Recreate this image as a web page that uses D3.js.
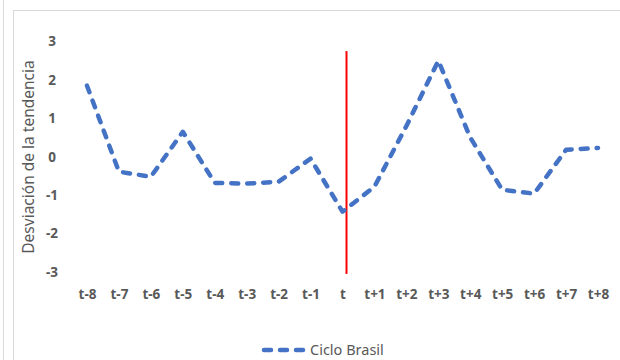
<!DOCTYPE html>
<html><head><meta charset="utf-8">
<script src="https://cdn.jsdelivr.net/npm/d3@7"></script>
<style>html,body{margin:0;padding:0;background:#fff;overflow:hidden}</style>
</head><body>
<svg id="c" width="620" height="360"></svg>
<script>
const categories = ["t-8","t-7","t-6","t-5","t-4","t-3","t-2","t-1","t","t+1","t+2","t+3","t+4","t+5","t+6","t+7","t+8"];
const cicloBrasil = [1.85,-0.39,-0.52,0.65,-0.68,-0.70,-0.65,-0.05,-1.43,-0.78,0.8,2.5,0.5,-0.86,-0.96,0.18,0.23];
const yTicks = [3,2,1,0,-1,-2,-3];
const seriesName = "Ciclo Brasil";
const yTitle = "Desviación de la tendencia";
const markerCategory = "t";
const markerRange = [-3.05, 2.75];

const svg = d3.select("#c");
const font = "'Noto Sans', 'Open Sans', sans-serif";

// frames
svg.append("line").attr("x1",3.5).attr("x2",3.5).attr("y1",0).attr("y2",360).attr("stroke","#d9d9d9");
svg.append("rect").attr("x",13.5).attr("y",10.5).attr("width",700).attr("height",500)
  .attr("fill","none").attr("stroke","#d9d9d9");

const x = d3.scalePoint().domain(categories).range([87,598]);
const y = d3.scaleLinear().domain([-3,3]).range([272,41.5]);

// y axis labels
const yAxis = svg.append("g").attr("transform","translate(52,0)")
  .call(d3.axisLeft(y).tickValues(yTicks).tickSize(0).tickPadding(0)
    .tickFormat(d => String(d)));
yAxis.select(".domain").remove();
yAxis.selectAll("text").attr("font-family",font).attr("font-size",13.5).attr("font-weight","bold")
  .attr("fill","#595959").attr("text-anchor","middle").attr("x",0);

// x axis labels
const xAxis = svg.append("g").attr("transform","translate(0,294)")
  .call(d3.axisBottom(x).tickSize(0).tickPadding(0));
xAxis.select(".domain").remove();
xAxis.selectAll("text").attr("font-family",font).attr("font-size",13.5).attr("font-weight","bold")
  .attr("fill","#595959").attr("dy","0.35em").attr("y",0);

// y title
svg.append("text").attr("transform","translate(29,157) rotate(-90)")
  .attr("text-anchor","middle").attr("dy","0.35em").attr("font-family",font).attr("font-size",15.5)
  .attr("fill","#595959").text(yTitle);

// red marker line
svg.append("line").attr("x1",x(markerCategory)+4).attr("x2",x(markerCategory)+4)
  .attr("y1",y(markerRange[1])).attr("y2",y(markerRange[0]))
  .attr("stroke","#ff0000").attr("stroke-width",2);

// series line
const line = d3.line().x((d,i)=>x(categories[i])).y(d=>y(d));
svg.append("path").datum(cicloBrasil).attr("d",line)
  .attr("fill","none").attr("stroke","#4472c4").attr("stroke-width",4.5)
  .attr("stroke-linecap","round").attr("stroke-linejoin","round")
  .attr("stroke-dasharray","7,9");

// legend
const lg = svg.append("g").attr("transform","translate(264,350)");
lg.append("line").attr("x1",0).attr("x2",40).attr("y1",0).attr("y2",0)
  .attr("stroke","#4472c4").attr("stroke-width",4.5).attr("stroke-linecap","round")
  .attr("stroke-dasharray","7,9");
lg.append("text").attr("x",46).attr("y",0).attr("dy","0.35em")
  .attr("font-family",font).attr("font-size",14.5).attr("fill","#595959").text(seriesName);
</script>
</body></html>
